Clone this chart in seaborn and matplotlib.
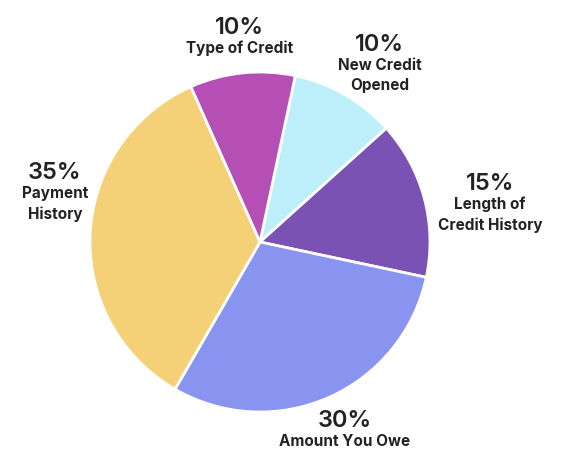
import matplotlib
matplotlib.use("Agg")
import matplotlib.pyplot as plt
import seaborn as sns

# Data (clockwise from just right of 12 o'clock)
categories = ["New Credit\nOpened", "Length of\nCredit History", "Amount You Owe",
              "Payment\nHistory", "Type of Credit"]
shares = [10, 15, 30, 35, 10]
colors = ["#BDEFFA", "#7A52B3", "#8894EF", "#F4D077", "#B64FB5"]

# label anchor points in pixel coords (x, y from top)
label_pos = [(380, 45), (490, 184), (345, 421), (55, 173), (240, 28)]

sns.set_theme(style="white")
plt.rcParams['font.family'] = ['Inter', 'DejaVu Sans']

W, H = 564, 463
fig = plt.figure(figsize=(W / 100, H / 100), dpi=100)
ax = fig.add_axes([0, 0, 1, 1])

ax.pie(shares, colors=colors, startangle=78, counterclock=False,
       center=(260, H - 242), radius=170, frame=True,
       wedgeprops=dict(edgecolor="white", linewidth=2))
ax.set_xlim(0, W)
ax.set_ylim(0, H)
ax.set_aspect("equal")
ax.axis("off")

txt = "#222222"
for cat, val, (x, y) in zip(categories, shares, label_pos):
    ax.text(x, H - y, f"{val}%", ha="center", va="center", fontsize=17,
            fontweight="semibold", color=txt)
    ax.text(x, H - y - 13, cat, ha="center", va="top", fontsize=11,
            fontweight="bold", color=txt, linespacing=1.4)

fig.savefig("out.png", dpi=100)
